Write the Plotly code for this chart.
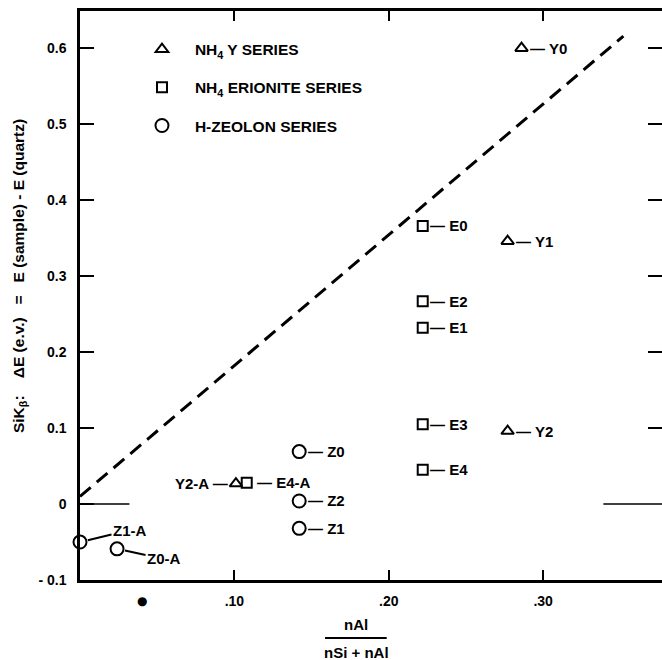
import plotly.graph_objects as go

# ---------------- data ----------------
y_names = ["Y0", "Y1", "Y2", "Y2-A"]
y_x = [0.286, 0.277, 0.277, 0.101]
y_y = [0.600, 0.346, 0.096, 0.027]

e_names = ["E0", "E2", "E1", "E3", "E4", "E4-A"]
e_x = [0.222, 0.222, 0.222, 0.222, 0.222, 0.108]
e_y = [0.366, 0.267, 0.232, 0.105, 0.045, 0.028]

z_names = ["Z0", "Z2", "Z1", "Z1-A", "Z0-A"]
z_x = [0.142, 0.142, 0.142, 0.0, 0.024]
z_y = [0.069, 0.004, -0.032, -0.050, -0.059]

fit_x = [0.0, 0.352]
fit_y = [0.010, 0.616]

zero_left_x = [0.0, 0.032]
zero_right_x = [0.339, 0.377]
zero_y = [0.0, 0.0]

x_ticks = [0.10, 0.20, 0.30]
x_ticktext = [".10", ".20", ".30"]
y_ticks = [-0.1, 0.0, 0.1, 0.2, 0.3, 0.4, 0.5, 0.6]
y_ticktext = ["- 0.1", "0", "0.1", "0.2", "0.3", "0.4", "0.5", "0.6"]
right_ticks = [0.1, 0.2, 0.3, 0.4, 0.5, 0.6]

series_names = ["NH<sub>4</sub> Y SERIES", "NH<sub>4</sub> ERIONITE SERIES", "H-ZEOLON SERIES"]

# ---------------- style ----------------
FONT = "Liberation Sans"
NB = "\u00a0"
tfont = dict(family=FONT, size=15, color="black", weight="bold")
tickf = dict(family=FONT, size=14, color="black", weight="bold")
legf = dict(family=FONT, size=15.5, color="black", weight="bold")

fig = go.Figure()

fig.add_trace(go.Scatter(x=fit_x, y=fit_y, mode="lines",
                         line=dict(color="black", width=3, dash="14px,8px"),
                         showlegend=False, hoverinfo="skip"))
fig.add_trace(go.Scatter(x=zero_left_x, y=zero_y, mode="lines",
                         line=dict(color="black", width=1.5),
                         showlegend=False, hoverinfo="skip", cliponaxis=False))
fig.add_trace(go.Scatter(x=zero_right_x, y=zero_y, mode="lines", yaxis="y2",
                         line=dict(color="black", width=1.5),
                         showlegend=False, hoverinfo="skip", cliponaxis=False))

specs = [
    (y_x, y_y, "triangle-up-open", 11, series_names[0], "g1"),
    (e_x, e_y, "square-open", 10, series_names[1], "g2"),
    (z_x, z_y, "circle-open", 13, series_names[2], "g3"),
]
for xs, ys, sym, sz, nm, grp in specs:
    fig.add_trace(go.Scatter(
        x=xs, y=ys, mode="markers", name=NB * 3 + nm, legendgroup=grp,
        marker=dict(symbol=sym, size=sz, color="black", line=dict(color="black", width=2)),
        cliponaxis=False))

# ---------------- point labels ----------------
annotations = []
shift = {"tri": 6, "sq": 5, "circ": 7}
def right_label(x, y, name, xs):
    annotations.append(dict(x=x, y=y, text="\u2014 " + name, showarrow=False,
                            xanchor="left", yanchor="middle", xshift=xs, font=tfont))

for x, y, n in zip(y_x, y_y, y_names):
    if n.endswith("-A"):
        annotations.append(dict(x=x, y=y, text=n + " \u2014", showarrow=False,
                                xanchor="right", yanchor="middle", xshift=-6, font=tfont))
    else:
        right_label(x, y, n, shift["tri"])
for x, y, n in zip(e_x, e_y, e_names):
    right_label(x, y, n, 8 if n.endswith("-A") else shift["sq"])
for x, y, n in zip(z_x, z_y, z_names):
    if n == "Z1-A":
        annotations.append(dict(x=x, y=y, text=n, showarrow=True, arrowhead=0, arrowwidth=2,
                                arrowcolor="black", ax=50, ay=-12, standoff=8, font=tfont))
    elif n == "Z0-A":
        annotations.append(dict(x=x, y=y, text=n, showarrow=True, arrowhead=0, arrowwidth=2,
                                arrowcolor="black", ax=47, ay=10, standoff=8, font=tfont))
    else:
        right_label(x, y, n, shift["circ"])

# axis titles
annotations.append(dict(
    xref="paper", yref="y", x=-0.105, y=0.3, textangle=-90, showarrow=False,
    xanchor="center", yanchor="middle",
    text="SiK<sub>\u03b2</sub>:" + NB * 4 + "\u0394E (e.v.)" + NB * 3 + "=" + NB * 3 + "E (sample) - E (quartz)",
    font=dict(family=FONT, size=15.5, color="black", weight="bold")))
annotations.append(dict(xref="paper", yref="paper", x=0.475, y=-0.079, text="nAl",
                        showarrow=False, font=tfont, yanchor="middle"))
annotations.append(dict(xref="paper", yref="paper", x=0.475, y=-0.128, text="nSi + nAl",
                        showarrow=False, font=tfont, yanchor="middle"))
annotations.append(dict(xref="x", yref="paper", x=0.04, y=-0.037, text="\u25cf",
                        showarrow=False, font=dict(family="DejaVu Sans", size=12, color="black"),
                        yanchor="middle"))

fig.update_layout(
    width=662, height=660,
    margin=dict(l=80, r=0, t=11, b=80),
    paper_bgcolor="white", plot_bgcolor="white",
    font=tfont,
    annotations=annotations,
    shapes=[dict(type="line", xref="paper", yref="paper", x0=0.421, x1=0.527,
                 y0=-0.102, y1=-0.102, line=dict(color="black", width=2))],
    showlegend=True,
    legend=dict(x=0.1065, y=0.962, xanchor="left", yanchor="top", bgcolor="rgba(0,0,0,0)",
                font=legf, tracegroupgap=15, traceorder="grouped"),
    xaxis=dict(range=[0, 0.377], tickvals=x_ticks, ticktext=x_ticktext,
               ticks="inside", ticklen=10, tickwidth=2, tickcolor="black",
               showline=True, linewidth=2.5, linecolor="black", mirror="ticks",
               showgrid=False, zeroline=False, tickfont=tickf, ticklabelstandoff=6),
    yaxis=dict(range=[-0.1, 0.649], tickvals=y_ticks, ticktext=y_ticktext,
               ticks="inside", ticklen=14, tickwidth=2, tickcolor="black",
               showline=True, linewidth=2.5, linecolor="black",
               showgrid=False, zeroline=False, tickfont=tickf, ticklabelstandoff=8),
    yaxis2=dict(range=[-0.1, 0.649], overlaying="y", side="right", tickvals=right_ticks,
                ticks="inside", ticklen=14, tickwidth=2, tickcolor="black",
                showline=False, showticklabels=False, showgrid=False, zeroline=False),
)

fig.write_html("out.html")
